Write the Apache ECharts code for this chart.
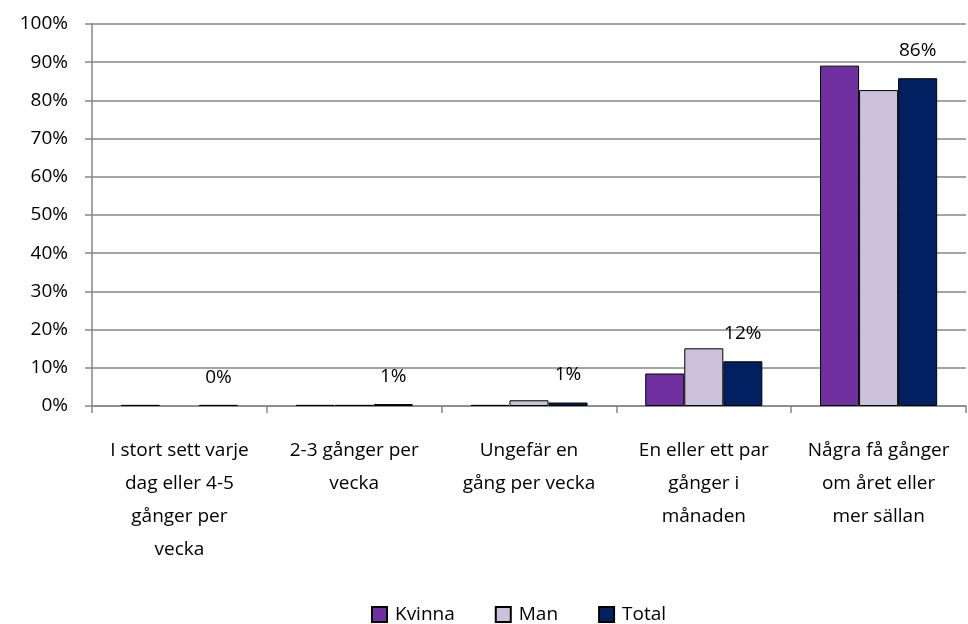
<!DOCTYPE html>
<html>
<head>
<meta charset="utf-8">
<script src="https://cdn.jsdelivr.net/npm/echarts@6/dist/echarts.min.js"></script>
<style>
  html, body { margin: 0; padding: 0; background: #fff; }
  #chart { width: 968px; height: 624px; }
</style>
</head>
<body>
<div id="chart"></div>
<script>
// kategorier (svar på hur ofta)
const categories = [
  "I stort sett varje\ndag eller 4-5\ngånger per\nvecka",
  "2-3 gånger per\nvecka",
  "Ungefär en\ngång per vecka",
  "En eller ett par\ngånger i\nmånaden",
  "Några få gånger\nom året eller\nmer sällan"
]
const kvinna = [0.3, 0.3, 0.3, 8.5, 89.1]
const man = [0, 0.3, 1.5, 15.1, 82.7]
const total = [0.3, 0.5, 0.9, 11.7, 85.8]
const yTicks = [0, 10, 20, 30, 40, 50, 60, 70, 80, 90, 100]

const font = "'Open Sans', 'Noto Sans', sans-serif"
const axisGray = "#868686"
const fs = 19

const chart = echarts.init(document.getElementById("chart"))

const barStyle = (color) => ({
  color: color,
  borderColor: "#000",
  borderWidth: 1
})

// nollvärden ritas inte (ingen kantlinje)
const toData = (arr) =>
  arr.map((v) => (v === 0 ? { value: v, itemStyle: { borderWidth: 0 } } : v))

const option = {
  animation: false,
  textStyle: { fontFamily: font },
  grid: {
    left: 92,
    right: 2,
    top: 24,
    bottom: 218
  },
  legend: {
    top: 600,
    left: 366,
    itemWidth: 15,
    itemHeight: 15,
    itemGap: 40,
    icon: "rect",
    textStyle: { fontSize: fs, color: "#000", fontFamily: font, padding: [0, 0, 0, 3] },
    data: ["Kvinna", "Man", "Total"]
  },
  xAxis: {
    type: "category",
    data: categories,
    axisLine: { lineStyle: { color: axisGray, width: 1.5 } },
    axisTick: { show: true, length: 7, lineStyle: { color: axisGray, width: 1.5 } },
    axisLabel: {
      interval: 0,
      color: "#000",
      fontSize: fs,
      lineHeight: 33,
      margin: 28,
      fontFamily: font
    }
  },
  yAxis: {
    type: "value",
    min: 0,
    max: 100,
    interval: 10,
    axisLine: { show: true, lineStyle: { color: axisGray, width: 1.5 } },
    axisTick: { show: true, length: 7, lineStyle: { color: axisGray, width: 1.5 } },
    splitLine: { lineStyle: { color: axisGray, width: 1.5 } },
    axisLabel: {
      color: "#000",
      fontSize: fs,
      margin: 24,
      fontFamily: font,
      formatter: (v) => (yTicks.includes(v) ? v + "%" : "")
    }
  },
  series: [
    {
      name: "Kvinna",
      type: "bar",
      data: toData(kvinna),
      barGap: "0%",
      barCategoryGap: "33%",
      itemStyle: barStyle("#7030A0")
    },
    {
      name: "Man",
      type: "bar",
      data: toData(man),
      itemStyle: barStyle("#CCC1DA")
    },
    {
      name: "Total",
      type: "bar",
      data: toData(total),
      itemStyle: barStyle("#002060"),
      label: {
        show: true,
        position: "top",
        distance: 18,
        color: "#000",
        fontSize: fs,
        fontFamily: font,
        formatter: (p) => Math.round(p.value) + "%"
      }
    }
  ]
}

chart.setOption(option)
</script>
</body>
</html>
